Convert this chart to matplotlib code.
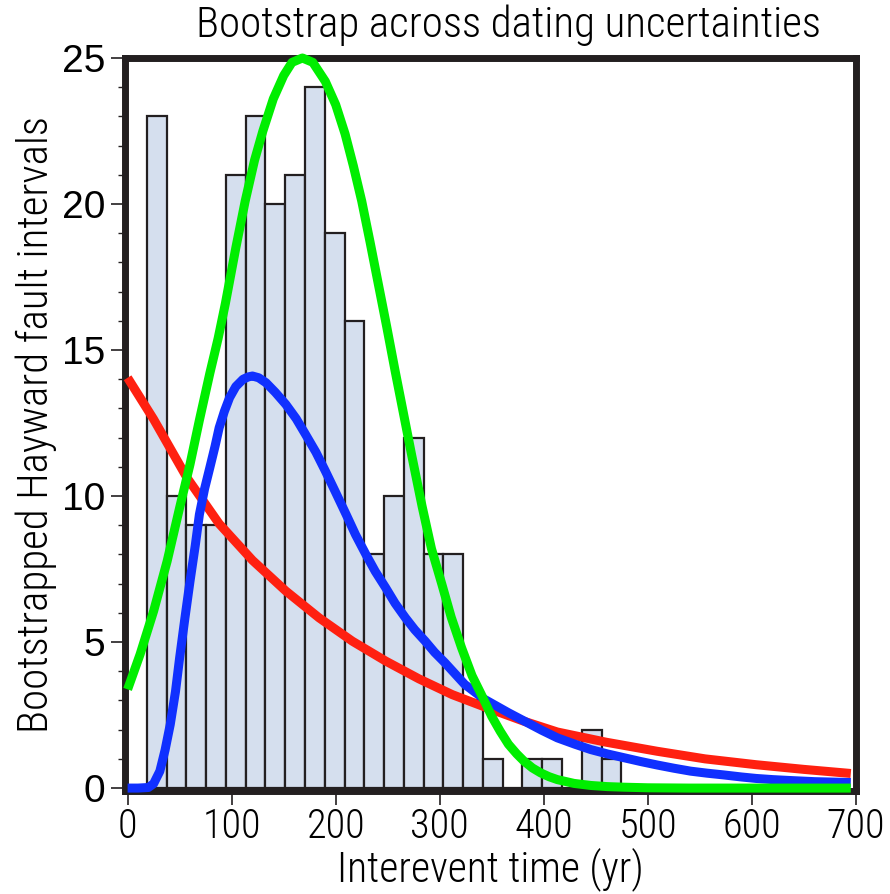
import matplotlib
matplotlib.use("Agg")
import matplotlib.pyplot as plt
import numpy as np
from matplotlib.ticker import MultipleLocator

# ---- histogram data (bin edges and counts) ----
bin_left = [18.5, 37.5, 56.5, 75.5, 94.5, 113.5, 132.5, 151.5, 170.5, 189.5,
            208.5, 227.5, 246.5, 265.5, 284.5, 303.5, 322.5, 341.5, 360.5, 379.5,
            398.5, 417.5, 436.5, 455.5]
bin_width = 19.0
counts = [23, 10, 9, 9, 21, 23, 20, 21, 24, 19,
          16, 8, 10, 12, 8, 8, 3, 1, 0, 1,
          1, 0, 2, 1]

# ---- fitted curves ----
red_x = [0, 25, 57, 88, 120, 152, 184, 216, 248, 280, 312, 343, 380, 413,
         460, 509, 555, 604, 650, 695]
red_y = [14.05, 12.63, 10.63, 9.05, 7.8, 6.75, 5.83, 5.03, 4.35, 3.74, 3.2,
         2.78, 2.3, 1.92, 1.57, 1.26, 1.0, 0.8, 0.64, 0.5]

blue_x = [0, 10, 20, 25, 31, 36, 41, 46, 50, 55, 60, 65, 69, 74, 79, 84, 88, 93,
          98, 104, 111, 116, 120, 126, 133, 142, 152, 162, 171, 181, 190, 200,
          210, 219, 229, 238, 248, 257, 267, 276, 286, 295, 305, 315, 324, 334,
          343, 350, 366, 382, 398, 413, 430, 445, 461, 477, 493, 509, 525, 541,
          557, 573, 590, 604, 620, 636, 660, 695]
blue_y = [0, 0, 0.02, 0.15, 0.58, 1.3, 2.18, 3.3, 4.46, 5.8, 7.09, 8.3, 9.37,
          10.25, 10.97, 11.7, 12.34, 12.9, 13.37, 13.75, 14.0, 14.08, 14.11, 14.05,
          13.88, 13.55, 13.14, 12.65, 12.11, 11.5, 10.86, 10.12, 9.37, 8.68, 8.0,
          7.42, 6.86, 6.33, 5.83, 5.42, 5.03, 4.65, 4.29, 3.9, 3.55, 3.28, 3.04,
          2.9, 2.58, 2.28, 1.98, 1.72, 1.5, 1.32, 1.17, 1.04, 0.91, 0.79, 0.68,
          0.58, 0.51, 0.45, 0.38, 0.33, 0.29, 0.26, 0.22, 0.19]

green_x = [0, 12, 25, 38, 50, 60, 69, 79, 87, 94, 104, 113, 122, 130, 140, 150,
           158, 168, 178, 190, 200, 209, 217, 225, 233, 241, 249, 257, 265, 273,
           283, 292, 302, 311, 321, 331, 340, 350, 358, 366, 374, 381, 389, 397,
           405, 413, 429, 445, 461, 477, 500, 540, 600, 695]
green_y = [3.38, 4.58, 6.06, 7.77, 9.6, 11.09, 12.6, 14.2, 15.4, 16.6, 18.5,
           20.1, 21.5, 22.5, 23.6, 24.4, 24.85, 25.0, 24.85, 24.2, 23.4, 22.4,
           21.3, 20.1, 18.7, 17.25, 15.8, 14.3, 12.85, 11.4, 9.65, 8.2, 6.98,
           5.85, 4.8, 3.85, 3.2, 2.45, 1.95, 1.5, 1.17, 0.92, 0.69, 0.52, 0.39,
           0.29, 0.16, 0.09, 0.05, 0.03, 0.01, 0.0, 0.0, 0.0]

x_ticks = [0, 100, 200, 300, 400, 500, 600, 700]
y_ticks = [0, 5, 10, 15, 20, 25]

title = "Bootstrap across dating uncertainties"
xlabel = "Interevent time (yr)"
ylabel = "Bootstrapped Hayward fault intervals"

narrow = ['Roboto Condensed', 'Liberation Sans', 'DejaVu Sans']
wide = ['Liberation Sans', 'DejaVu Sans']
plt.rcParams['font.family'] = narrow
plt.rcParams['font.weight'] = 300

fig = plt.figure(figsize=(8.9, 8.94), dpi=100)
ax = fig.add_axes([125 / 890, 1 - 791 / 894, 731 / 890, 733 / 894])

ink = '#231f20'
ax.bar(bin_left, counts, width=bin_width, align='edge', color='#d5dfee',
       edgecolor=ink, linewidth=1.6, zorder=1)

lw = 6.5
ax.plot(red_x, red_y, color='#ff2010', lw=lw, solid_capstyle='butt',
        clip_on=False, zorder=3)
ax.plot(blue_x, blue_y, color='#1030ff', lw=lw, solid_capstyle='butt',
        clip_on=False, zorder=3.1)
ax.plot(green_x, green_y, color='#00ee00', lw=lw, solid_capstyle='butt',
        clip_on=False, zorder=3.2)

ax.set_xlim(-2.5, 700)
ax.set_ylim(-0.1, 25)
ax.set_xticks(x_ticks)
ax.set_yticks(y_ticks)
ax.yaxis.set_minor_locator(MultipleLocator(1))

for s in ax.spines.values():
    s.set_linewidth(5.0)
    s.set_color(ink)

ax.tick_params(axis='both', which='major', direction='out', length=10,
               width=1.2, color=ink, pad=4)
ax.tick_params(axis='x', which='major', pad=2)
ax.tick_params(axis='y', which='minor', direction='out', length=5,
               width=1.0, color=ink)
ax.tick_params(axis='x', which='minor', length=0)

for lab in ax.get_xticklabels():
    lab.set_fontsize(29)
    lab.set_family(narrow)
    lab.set_fontweight(300)
for lab in ax.get_yticklabels():
    lab.set_fontsize(28)
    lab.set_family(wide)
    lab.set_fontweight('normal')

ax.set_xlabel(xlabel, fontsize=30, labelpad=1, fontweight=300)
ax.set_ylabel(ylabel, fontsize=31, labelpad=4, fontweight=300)
fig.text(508 / 890, 1 - 25 / 894, title, fontsize=31, ha='center', va='center',
         fontweight=300)

fig.savefig('out.png', dpi=100)
